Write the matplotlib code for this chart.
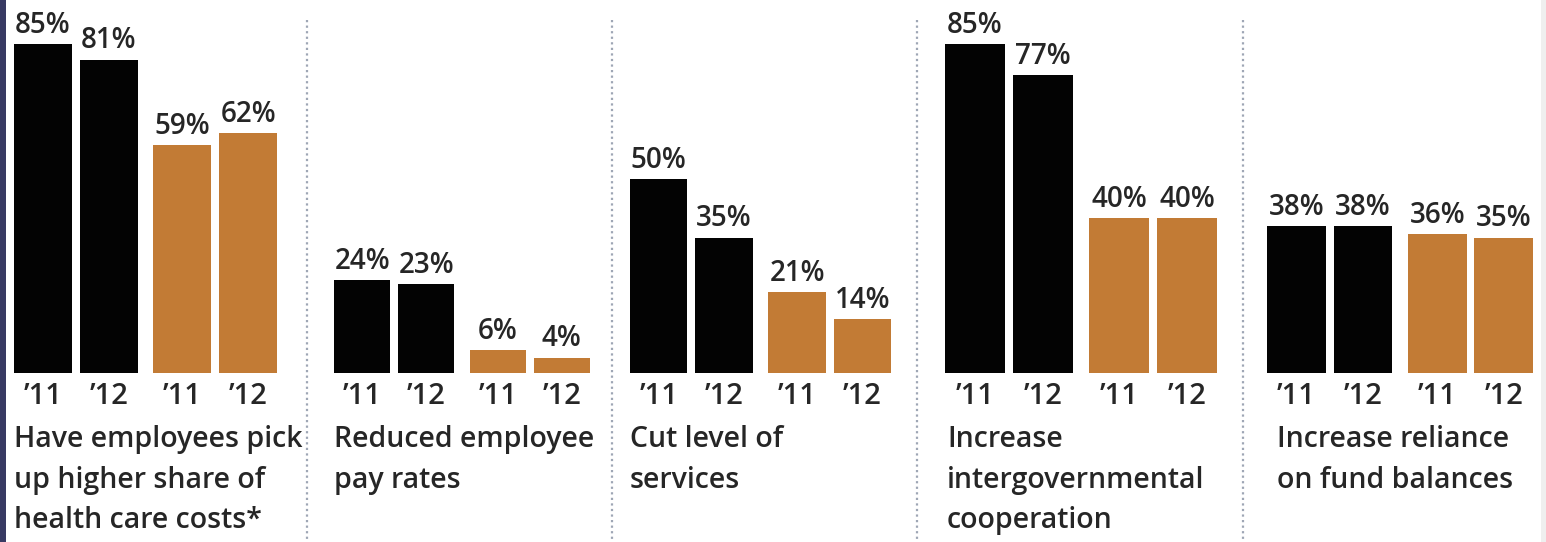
import matplotlib
matplotlib.use("Agg")
import matplotlib.pyplot as plt
from matplotlib.lines import Line2D
from matplotlib.patches import Rectangle

# survey results, percent of respondents
categories = [
    "Have employees pick\nup higher share of\nhealth care costs*",
    "Reduced employee\npay rates",
    "Cut level of\nservices",
    "Increase\nintergovernmental\ncooperation",
    "Increase reliance\non fund balances",
]
years = ["\u201911", "\u201912", "\u201911", "\u201912"]
black_11 = [85, 24, 50, 85, 38]
black_12 = [81, 23, 35, 77, 38]
orange_11 = [59, 6, 21, 40, 36]
orange_12 = [62, 4, 14, 40, 35]

# layout (pixels)
W, H = 1546, 542
group_px = [(14, 277), (334, 590), (630, 891), (945, 1217), (1267, 1533)]
label_dx = [0, 0, 0, 2, 10]
sep_px = [307, 612, 917, 1243]
base_px = 373
px_per_pct = 3.87
ymax = 95

xpos = [0, 1, 2.12, 3.12]
bar_colors = ["#030303", "#030303", "#c27b35", "#c27b35"]
txt = "#262626"
font = ["Open Sans", "DejaVu Sans"]

fig = plt.figure(figsize=(W / 100, H / 100), dpi=100)
fig.patch.set_facecolor("white")

for i in range(len(categories)):
    l, r = group_px[i]
    ax = fig.add_axes([l / W, (H - base_px) / H, (r - l) / W, ymax * px_per_pct / H])
    vals = [black_11[i], black_12[i], orange_11[i], orange_12[i]]
    ax.bar(xpos, vals, width=0.88, color=bar_colors)
    ax.set_xlim(-0.44, 3.56)
    ax.set_ylim(0, ymax)
    ax.axis("off")
    for x, v, yr in zip(xpos, vals, years):
        ax.annotate(f"{v}%", (x, v), xytext=(0, 8), textcoords="offset points",
                    ha="center", va="baseline", fontsize=20, fontweight="semibold",
                    family=font, color=txt, annotation_clip=False)
        ax.annotate(yr, (x, 0), xytext=(0, -22.5), textcoords="offset points",
                    ha="center", va="baseline", fontsize=21, fontweight="semibold",
                    family=font, color=txt, annotation_clip=False)
    # category name, wrapped under the year labels
    ax.annotate(categories[i], (0, 0), xycoords="axes fraction",
                xytext=(label_dx[i] * 0.72, -37.5), textcoords="offset points",
                ha="left", va="top", fontsize=20.5, fontweight="semibold",
                family=font, color=txt, linespacing=1.52, annotation_clip=False)

# dotted separators between groups
for sx in sep_px:
    fig.add_artist(Line2D([sx / W, sx / W], [1 - 20 / H, 1 - 540 / H], transform=fig.transFigure,
                          color="#9ea6b5", linestyle=(0, (1, 1.5)), linewidth=1.6))

# page edges
fig.add_artist(Rectangle((0, 0), 6 / W, 1, transform=fig.transFigure,
                         facecolor="#383a63", edgecolor="none"))
fig.add_artist(Rectangle((1 - 5 / W, 0), 5 / W, 1, transform=fig.transFigure,
                         facecolor="#efefef", edgecolor="none"))

fig.savefig("out.png", dpi=100)
